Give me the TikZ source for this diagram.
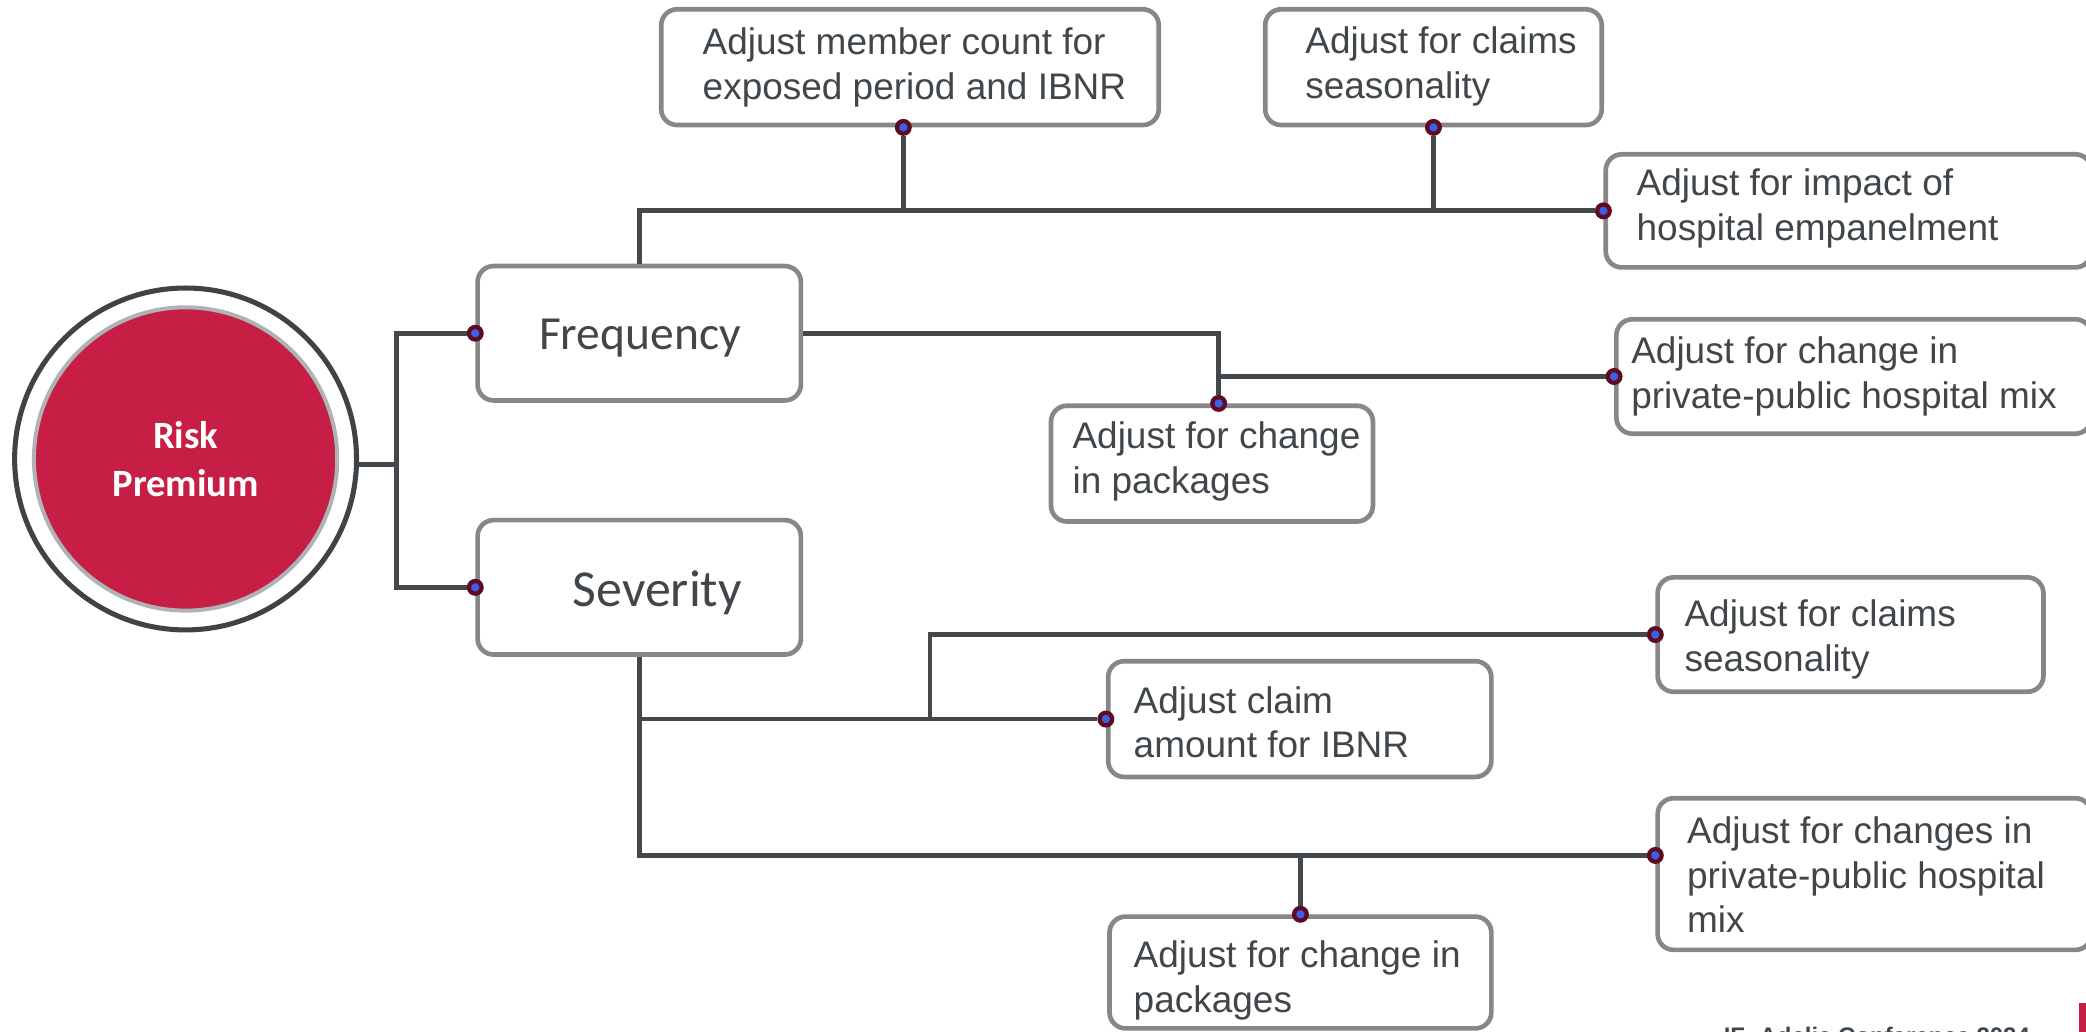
\documentclass[tikz,border=0pt]{standalone}
\usepackage{fontspec}
\setmainfont{Liberation Sans}
\newfontfamily\calfont{Carlito}
\usetikzlibrary{calc}
\definecolor{lineC}{HTML}{42484C}
\definecolor{boxC}{HTML}{878787}
\definecolor{textC}{HTML}{41464A}
\definecolor{redC}{HTML}{C71E45}
\definecolor{ringC}{HTML}{AEB3B6}
\definecolor{outerC}{HTML}{3E4347}
\definecolor{dotred}{HTML}{5E0A22}
\definecolor{dotblue}{HTML}{3C5FE6}
\newcommand{\txtstrut}{\rule{0pt}{21pt}}
\begin{document}
\begin{tikzpicture}[x=1pt,y=-1pt,
  conn/.style={draw=lineC, line width=3.6pt},
  boxnode/.style={draw=boxC, line width=3.5pt, rounded corners=12pt, fill=white, inner sep=0pt, rectangle},
  txt/.style={anchor=north west, inner sep=0pt, align=left, text=textC, font=\fontsize{27.8}{33.5}\selectfont},
  bigtxt/.style={anchor=base, inner sep=0pt, text=textC},
  dotnode/.style={circle, fill=dotblue, draw=dotred, line width=3.2pt, minimum size=9.5pt, inner sep=0pt}
]
\useasboundingbox (0,0) rectangle (1568,775);

% central circle
\node[circle, draw=outerC, line width=3.8pt, minimum size=257pt, inner sep=0pt] (rpo) at (139.5,345) {};
\node[circle, fill=redC, draw=ringC, line width=3pt, minimum size=228pt, inner sep=0pt, align=center, text=white,
      font=\calfont\bfseries\fontsize{29}{36}\selectfont] (rp) at (139.5,345) {Risk\\Premium};

% boxes
\node[boxnode, minimum width=243pt, minimum height=101pt] (freq) at (480.5,250.5) {};
\node[boxnode, minimum width=243pt, minimum height=101pt] (sev) at (480.5,441.5) {};
\node[boxnode, minimum width=374pt, minimum height=87pt] (b1) at (684,50.5) {};
\node[boxnode, minimum width=253pt, minimum height=87pt] (b2) at (1077.5,50.5) {};
\node[boxnode, minimum width=365pt, minimum height=85pt] (b3) at (1389.5,158.5) {};
\node[boxnode, minimum width=357pt, minimum height=86pt] (b4) at (1393.5,283) {};
\node[boxnode, minimum width=242pt, minimum height=87pt] (b5) at (911,348.5) {};
\node[boxnode, minimum width=290pt, minimum height=86pt] (b6) at (1391,477) {};
\node[boxnode, minimum width=288pt, minimum height=87pt] (b7) at (977,540.5) {};
\node[boxnode, minimum width=326pt, minimum height=114pt] (b8) at (1409,657) {};
\node[boxnode, minimum width=287pt, minimum height=84pt] (b9) at (977.5,731) {};

% texts
\node[bigtxt, font=\calfont\fontsize{35.7}{40}\selectfont] (tf) at (481,263) {Frequency};
\node[bigtxt, font=\calfont\fontsize{39}{44}\selectfont] (ts) at (494,456) {Severity};
\node[txt] (t1) at (528,20) {\txtstrut Adjust member count for\\exposed period and IBNR};
\node[txt] (t2) at (981,19) {\txtstrut Adjust for claims\\seasonality};
\node[txt] (t3) at (1230,126) {\txtstrut Adjust for impact of\\hospital empanelment};
\node[txt] (t4) at (1226,252) {\txtstrut Adjust for change in\\private-public hospital mix};
\node[txt] (t5) at (806,316) {\txtstrut Adjust for change\\in packages};
\node[txt] (t6) at (1266,450) {\txtstrut Adjust for claims\\seasonality};
\node[txt] (t7) at (852,515) {\txtstrut Adjust claim\\amount for IBNR};
\node[txt] (t8) at (1268,613) {\txtstrut Adjust for changes in\\private-public hospital\\mix};
\node[txt] (t9) at (852,706) {\txtstrut Adjust for change in\\packages};

% dots
\node[dotnode] (df) at (freq.west) {};
\node[dotnode] (ds) at (sev.west) {};
\node[dotnode] (d1) at ([xshift=-5pt]b1.south) {};
\node[dotnode] (d2) at (b2.south) {};
\node[dotnode] (d3) at (b3.west) {};
\node[dotnode] (d4) at (b4.west) {};
\node[dotnode] (d5) at ([xshift=5pt]b5.north) {};
\node[dotnode] (d6) at (b6.west) {};
\node[dotnode] (d7) at (b7.west) {};
\node[dotnode] (d8) at ([yshift=14pt]b8.west) {};
\node[dotnode] (d9) at (b9.north) {};

% junction coordinates
\coordinate (j0) at (298,349);
\coordinate (k6) at (699,540.5);

% connectors
\draw[conn] ([yshift=-4pt]rpo.east) -- (j0);
\draw[conn] (df) -| (j0) |- (ds);
\draw[conn] (freq.north) |- (d3);
\draw[conn] (d1) -- (d1 |- d3);
\draw[conn] (d2) -- (d2 |- d3);
\draw[conn] (freq.east) -| (d5);
\draw[conn] (d4) -- (d4 -| d5);
\draw[conn] (sev.south) |- (d8);
\draw[conn] (d7) -- (d7 -| sev.south);
\draw[conn] (k6) |- (d6);
\draw[conn] (d9) -- (d9 |- d8);

% footer
\node[anchor=base east, inner sep=0pt, text=textC, font=\bfseries\fontsize{18}{20}\selectfont] (ft) at (1526,785) {IF- Adelie Conference 2024};
\fill[redC] (1562.7,754) rectangle (1570,780);
\end{tikzpicture}
\end{document}
